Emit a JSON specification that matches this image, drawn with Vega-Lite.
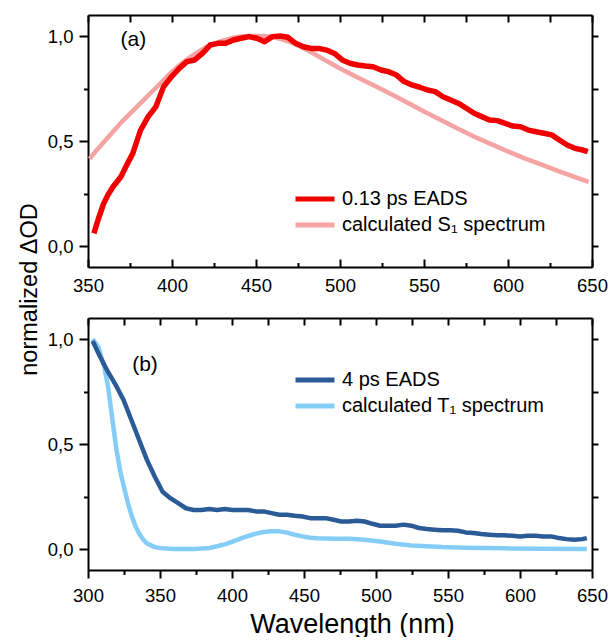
{
  "$schema": "https://vega.github.io/schema/vega-lite/v6.json",
  "background": "white",
  "padding": {"left": 17, "top": 14, "right": 0, "bottom": 0},
  "datasets": {
    "top": [
      {"wl":351,"v":0.415,"s":"calculated S₁ spectrum"},{"wl":355,"v":0.455,"s":"calculated S₁ spectrum"},{"wl":360,"v":0.5,"s":"calculated S₁ spectrum"},{"wl":365,"v":0.545,"s":"calculated S₁ spectrum"},{"wl":370,"v":0.59,"s":"calculated S₁ spectrum"},{"wl":375,"v":0.63,"s":"calculated S₁ spectrum"},{"wl":380,"v":0.67,"s":"calculated S₁ spectrum"},{"wl":385,"v":0.71,"s":"calculated S₁ spectrum"},{"wl":390,"v":0.75,"s":"calculated S₁ spectrum"},{"wl":395,"v":0.79,"s":"calculated S₁ spectrum"},{"wl":400,"v":0.83,"s":"calculated S₁ spectrum"},{"wl":405,"v":0.865,"s":"calculated S₁ spectrum"},{"wl":410,"v":0.895,"s":"calculated S₁ spectrum"},{"wl":415,"v":0.922,"s":"calculated S₁ spectrum"},{"wl":420,"v":0.945,"s":"calculated S₁ spectrum"},{"wl":425,"v":0.963,"s":"calculated S₁ spectrum"},{"wl":430,"v":0.978,"s":"calculated S₁ spectrum"},{"wl":435,"v":0.989,"s":"calculated S₁ spectrum"},{"wl":440,"v":0.996,"s":"calculated S₁ spectrum"},{"wl":445,"v":1.0,"s":"calculated S₁ spectrum"},{"wl":450,"v":1.0,"s":"calculated S₁ spectrum"},{"wl":455,"v":1.0,"s":"calculated S₁ spectrum"},{"wl":460,"v":0.995,"s":"calculated S₁ spectrum"},{"wl":465,"v":0.985,"s":"calculated S₁ spectrum"},{"wl":470,"v":0.972,"s":"calculated S₁ spectrum"},{"wl":475,"v":0.955,"s":"calculated S₁ spectrum"},{"wl":480,"v":0.935,"s":"calculated S₁ spectrum"},{"wl":485,"v":0.913,"s":"calculated S₁ spectrum"},{"wl":490,"v":0.89,"s":"calculated S₁ spectrum"},{"wl":495,"v":0.868,"s":"calculated S₁ spectrum"},{"wl":500,"v":0.845,"s":"calculated S₁ spectrum"},{"wl":505,"v":0.825,"s":"calculated S₁ spectrum"},{"wl":510,"v":0.805,"s":"calculated S₁ spectrum"},{"wl":515,"v":0.785,"s":"calculated S₁ spectrum"},{"wl":520,"v":0.765,"s":"calculated S₁ spectrum"},{"wl":530,"v":0.725,"s":"calculated S₁ spectrum"},{"wl":540,"v":0.683,"s":"calculated S₁ spectrum"},{"wl":550,"v":0.64,"s":"calculated S₁ spectrum"},{"wl":560,"v":0.6,"s":"calculated S₁ spectrum"},{"wl":570,"v":0.56,"s":"calculated S₁ spectrum"},{"wl":580,"v":0.52,"s":"calculated S₁ spectrum"},{"wl":590,"v":0.485,"s":"calculated S₁ spectrum"},{"wl":600,"v":0.45,"s":"calculated S₁ spectrum"},{"wl":610,"v":0.417,"s":"calculated S₁ spectrum"},{"wl":620,"v":0.387,"s":"calculated S₁ spectrum"},{"wl":630,"v":0.357,"s":"calculated S₁ spectrum"},{"wl":640,"v":0.328,"s":"calculated S₁ spectrum"},{"wl":648,"v":0.305,"s":"calculated S₁ spectrum"},
      {"wl":353.5,"v":0.06,"s":"0.13 ps EADS"},{"wl":356,"v":0.125,"s":"0.13 ps EADS"},{"wl":359.2,"v":0.2,"s":"0.13 ps EADS"},{"wl":362,"v":0.245,"s":"0.13 ps EADS"},{"wl":365,"v":0.283,"s":"0.13 ps EADS"},{"wl":369.6,"v":0.33,"s":"0.13 ps EADS"},{"wl":373,"v":0.385,"s":"0.13 ps EADS"},{"wl":376.6,"v":0.44,"s":"0.13 ps EADS"},{"wl":381.2,"v":0.55,"s":"0.13 ps EADS"},{"wl":385.8,"v":0.616,"s":"0.13 ps EADS"},{"wl":390.4,"v":0.663,"s":"0.13 ps EADS"},{"wl":395,"v":0.759,"s":"0.13 ps EADS"},{"wl":399.7,"v":0.806,"s":"0.13 ps EADS"},{"wl":404.3,"v":0.846,"s":"0.13 ps EADS"},{"wl":408.9,"v":0.878,"s":"0.13 ps EADS"},{"wl":413.5,"v":0.886,"s":"0.13 ps EADS"},{"wl":418.1,"v":0.917,"s":"0.13 ps EADS"},{"wl":422.7,"v":0.957,"s":"0.13 ps EADS"},{"wl":427.4,"v":0.965,"s":"0.13 ps EADS"},{"wl":432,"v":0.965,"s":"0.13 ps EADS"},{"wl":436.6,"v":0.981,"s":"0.13 ps EADS"},{"wl":441.2,"v":0.989,"s":"0.13 ps EADS"},{"wl":445.8,"v":0.997,"s":"0.13 ps EADS"},{"wl":450.5,"v":0.989,"s":"0.13 ps EADS"},{"wl":455.1,"v":0.973,"s":"0.13 ps EADS"},{"wl":459.7,"v":0.997,"s":"0.13 ps EADS"},{"wl":464.3,"v":1.0,"s":"0.13 ps EADS"},{"wl":468.9,"v":0.994,"s":"0.13 ps EADS"},{"wl":473.6,"v":0.965,"s":"0.13 ps EADS"},{"wl":478.2,"v":0.949,"s":"0.13 ps EADS"},{"wl":482.8,"v":0.941,"s":"0.13 ps EADS"},{"wl":487.4,"v":0.941,"s":"0.13 ps EADS"},{"wl":492,"v":0.933,"s":"0.13 ps EADS"},{"wl":496.7,"v":0.917,"s":"0.13 ps EADS"},{"wl":501.3,"v":0.886,"s":"0.13 ps EADS"},{"wl":505.9,"v":0.87,"s":"0.13 ps EADS"},{"wl":510.5,"v":0.862,"s":"0.13 ps EADS"},{"wl":515.1,"v":0.857,"s":"0.13 ps EADS"},{"wl":519.7,"v":0.854,"s":"0.13 ps EADS"},{"wl":524.4,"v":0.838,"s":"0.13 ps EADS"},{"wl":529,"v":0.83,"s":"0.13 ps EADS"},{"wl":533.6,"v":0.814,"s":"0.13 ps EADS"},{"wl":538.2,"v":0.783,"s":"0.13 ps EADS"},{"wl":542.8,"v":0.767,"s":"0.13 ps EADS"},{"wl":547.5,"v":0.756,"s":"0.13 ps EADS"},{"wl":552.1,"v":0.743,"s":"0.13 ps EADS"},{"wl":556.7,"v":0.735,"s":"0.13 ps EADS"},{"wl":561.3,"v":0.711,"s":"0.13 ps EADS"},{"wl":565.9,"v":0.695,"s":"0.13 ps EADS"},{"wl":570.6,"v":0.679,"s":"0.13 ps EADS"},{"wl":575.2,"v":0.656,"s":"0.13 ps EADS"},{"wl":579.8,"v":0.632,"s":"0.13 ps EADS"},{"wl":584.4,"v":0.616,"s":"0.13 ps EADS"},{"wl":589,"v":0.6,"s":"0.13 ps EADS"},{"wl":593.6,"v":0.597,"s":"0.13 ps EADS"},{"wl":598.3,"v":0.584,"s":"0.13 ps EADS"},{"wl":602.9,"v":0.571,"s":"0.13 ps EADS"},{"wl":607.5,"v":0.568,"s":"0.13 ps EADS"},{"wl":612.1,"v":0.552,"s":"0.13 ps EADS"},{"wl":616.7,"v":0.544,"s":"0.13 ps EADS"},{"wl":621.4,"v":0.537,"s":"0.13 ps EADS"},{"wl":626,"v":0.529,"s":"0.13 ps EADS"},{"wl":630.6,"v":0.505,"s":"0.13 ps EADS"},{"wl":635.2,"v":0.481,"s":"0.13 ps EADS"},{"wl":639.8,"v":0.465,"s":"0.13 ps EADS"},{"wl":644.5,"v":0.457,"s":"0.13 ps EADS"},{"wl":647.5,"v":0.449,"s":"0.13 ps EADS"}
    ],
    "bottom": [
      {"wl":303.2,"v":1.0,"s":"calculated T₁ spectrum"},{"wl":307.3,"v":0.96,"s":"calculated T₁ spectrum"},{"wl":311.3,"v":0.866,"s":"calculated T₁ spectrum"},{"wl":314,"v":0.77,"s":"calculated T₁ spectrum"},{"wl":316.7,"v":0.629,"s":"calculated T₁ spectrum"},{"wl":319.4,"v":0.49,"s":"calculated T₁ spectrum"},{"wl":322.1,"v":0.38,"s":"calculated T₁ spectrum"},{"wl":324.8,"v":0.3,"s":"calculated T₁ spectrum"},{"wl":327.5,"v":0.225,"s":"calculated T₁ spectrum"},{"wl":330.2,"v":0.16,"s":"calculated T₁ spectrum"},{"wl":332.9,"v":0.11,"s":"calculated T₁ spectrum"},{"wl":335.6,"v":0.072,"s":"calculated T₁ spectrum"},{"wl":338.3,"v":0.045,"s":"calculated T₁ spectrum"},{"wl":341,"v":0.026,"s":"calculated T₁ spectrum"},{"wl":346.4,"v":0.009,"s":"calculated T₁ spectrum"},{"wl":351.8,"v":0.003,"s":"calculated T₁ spectrum"},{"wl":359.9,"v":0.0,"s":"calculated T₁ spectrum"},{"wl":373.4,"v":0.0,"s":"calculated T₁ spectrum"},{"wl":384.2,"v":0.005,"s":"calculated T₁ spectrum"},{"wl":389.6,"v":0.013,"s":"calculated T₁ spectrum"},{"wl":395,"v":0.022,"s":"calculated T₁ spectrum"},{"wl":400.4,"v":0.035,"s":"calculated T₁ spectrum"},{"wl":405.8,"v":0.049,"s":"calculated T₁ spectrum"},{"wl":411.2,"v":0.062,"s":"calculated T₁ spectrum"},{"wl":416.6,"v":0.073,"s":"calculated T₁ spectrum"},{"wl":422,"v":0.081,"s":"calculated T₁ spectrum"},{"wl":427.4,"v":0.084,"s":"calculated T₁ spectrum"},{"wl":432.8,"v":0.084,"s":"calculated T₁ spectrum"},{"wl":438.2,"v":0.078,"s":"calculated T₁ spectrum"},{"wl":443.5,"v":0.068,"s":"calculated T₁ spectrum"},{"wl":448.9,"v":0.06,"s":"calculated T₁ spectrum"},{"wl":454.3,"v":0.054,"s":"calculated T₁ spectrum"},{"wl":459.7,"v":0.051,"s":"calculated T₁ spectrum"},{"wl":470.5,"v":0.049,"s":"calculated T₁ spectrum"},{"wl":481.3,"v":0.049,"s":"calculated T₁ spectrum"},{"wl":492.1,"v":0.044,"s":"calculated T₁ spectrum"},{"wl":502.9,"v":0.036,"s":"calculated T₁ spectrum"},{"wl":513.7,"v":0.025,"s":"calculated T₁ spectrum"},{"wl":524.5,"v":0.017,"s":"calculated T₁ spectrum"},{"wl":535.3,"v":0.013,"s":"calculated T₁ spectrum"},{"wl":546.1,"v":0.009,"s":"calculated T₁ spectrum"},{"wl":562.3,"v":0.006,"s":"calculated T₁ spectrum"},{"wl":589.3,"v":0.003,"s":"calculated T₁ spectrum"},{"wl":616.2,"v":0.001,"s":"calculated T₁ spectrum"},{"wl":646.4,"v":0.0,"s":"calculated T₁ spectrum"},
      {"wl":303.2,"v":0.99,"s":"4 ps EADS"},{"wl":308.6,"v":0.913,"s":"4 ps EADS"},{"wl":314,"v":0.842,"s":"4 ps EADS"},{"wl":319.4,"v":0.779,"s":"4 ps EADS"},{"wl":324.8,"v":0.708,"s":"4 ps EADS"},{"wl":330.2,"v":0.613,"s":"4 ps EADS"},{"wl":335.6,"v":0.518,"s":"4 ps EADS"},{"wl":341,"v":0.423,"s":"4 ps EADS"},{"wl":346.4,"v":0.344,"s":"4 ps EADS"},{"wl":351.8,"v":0.273,"s":"4 ps EADS"},{"wl":357.2,"v":0.242,"s":"4 ps EADS"},{"wl":362.6,"v":0.218,"s":"4 ps EADS"},{"wl":368,"v":0.194,"s":"4 ps EADS"},{"wl":373.4,"v":0.186,"s":"4 ps EADS"},{"wl":378.8,"v":0.186,"s":"4 ps EADS"},{"wl":384.2,"v":0.19,"s":"4 ps EADS"},{"wl":389.6,"v":0.186,"s":"4 ps EADS"},{"wl":395,"v":0.19,"s":"4 ps EADS"},{"wl":400.4,"v":0.186,"s":"4 ps EADS"},{"wl":405.8,"v":0.186,"s":"4 ps EADS"},{"wl":411.2,"v":0.186,"s":"4 ps EADS"},{"wl":416.6,"v":0.179,"s":"4 ps EADS"},{"wl":422,"v":0.179,"s":"4 ps EADS"},{"wl":427.4,"v":0.171,"s":"4 ps EADS"},{"wl":432.8,"v":0.163,"s":"4 ps EADS"},{"wl":438.2,"v":0.163,"s":"4 ps EADS"},{"wl":443.5,"v":0.158,"s":"4 ps EADS"},{"wl":448.9,"v":0.155,"s":"4 ps EADS"},{"wl":454.3,"v":0.147,"s":"4 ps EADS"},{"wl":459.7,"v":0.147,"s":"4 ps EADS"},{"wl":465.1,"v":0.147,"s":"4 ps EADS"},{"wl":470.5,"v":0.139,"s":"4 ps EADS"},{"wl":475.9,"v":0.131,"s":"4 ps EADS"},{"wl":481.3,"v":0.131,"s":"4 ps EADS"},{"wl":486.7,"v":0.134,"s":"4 ps EADS"},{"wl":492.1,"v":0.131,"s":"4 ps EADS"},{"wl":497.5,"v":0.12,"s":"4 ps EADS"},{"wl":502.9,"v":0.111,"s":"4 ps EADS"},{"wl":508.3,"v":0.111,"s":"4 ps EADS"},{"wl":513.7,"v":0.111,"s":"4 ps EADS"},{"wl":519.1,"v":0.116,"s":"4 ps EADS"},{"wl":524.5,"v":0.111,"s":"4 ps EADS"},{"wl":529.9,"v":0.1,"s":"4 ps EADS"},{"wl":535.3,"v":0.095,"s":"4 ps EADS"},{"wl":540.7,"v":0.092,"s":"4 ps EADS"},{"wl":546.1,"v":0.089,"s":"4 ps EADS"},{"wl":551.5,"v":0.089,"s":"4 ps EADS"},{"wl":556.9,"v":0.087,"s":"4 ps EADS"},{"wl":562.3,"v":0.079,"s":"4 ps EADS"},{"wl":567.7,"v":0.076,"s":"4 ps EADS"},{"wl":573.1,"v":0.071,"s":"4 ps EADS"},{"wl":578.5,"v":0.068,"s":"4 ps EADS"},{"wl":583.9,"v":0.065,"s":"4 ps EADS"},{"wl":589.3,"v":0.065,"s":"4 ps EADS"},{"wl":594.7,"v":0.063,"s":"4 ps EADS"},{"wl":600,"v":0.06,"s":"4 ps EADS"},{"wl":605.4,"v":0.063,"s":"4 ps EADS"},{"wl":610.8,"v":0.063,"s":"4 ps EADS"},{"wl":616.2,"v":0.06,"s":"4 ps EADS"},{"wl":621.6,"v":0.06,"s":"4 ps EADS"},{"wl":627,"v":0.052,"s":"4 ps EADS"},{"wl":632.4,"v":0.047,"s":"4 ps EADS"},{"wl":637.8,"v":0.044,"s":"4 ps EADS"},{"wl":643.2,"v":0.047,"s":"4 ps EADS"},{"wl":646.4,"v":0.052,"s":"4 ps EADS"}
    ],
    "labA": [{"wl":377,"v":0.98,"t":"(a)"}],
    "labB": [{"wl":339.6,"v":0.876,"t":"(b)"}]
  },
  "vconcat": [
    {
      "width": 504,
      "height": 252,
      "resolve": {"axis": {"x": "independent", "y": "independent"}},
      "layer": [
        {
          "data": {"name": "top"},
          "transform": [{"filter": "datum.s === 'calculated S₁ spectrum'"}],
          "mark": {"type": "line", "strokeWidth": 4.5, "strokeJoin": "round", "strokeCap": "butt"},
          "encoding": {
            "x": {"field": "wl", "type": "quantitative", "scale": {"domain": [350, 650], "nice": false, "zero": false},
                  "axis": {"orient": "bottom", "values": [350,400,450,500,550,600,650], "tickSize": -8, "labelPadding": 17, "title": null}},
            "y": {"field": "v", "type": "quantitative", "scale": {"domain": [-0.1, 1.1], "nice": false, "zero": false},
                  "axis": {"orient": "left", "values": [0, 0.5, 1], "tickSize": 9, "labelPadding": 6,
                           "labelExpr": "replace(format(datum.value, '.1f'), '.', ',')",
                           "title": "normalized ΔOD", "titleFontSize": 23.5, "titleAngle": 270, "titleX": -52, "titleY": 274,
                           "titleAlign": "center", "titleBaseline": "alphabetic"}},
            "color": {"field": "s", "type": "nominal",
                      "scale": {"domain": ["0.13 ps EADS", "calculated S₁ spectrum"], "range": ["#f00000", "#f5a3a3"]},
                      "legend": {"orient": "none", "legendX": 205, "legendY": 174, "title": null}}
          }
        },
        {
          "data": {"name": "top"},
          "transform": [{"filter": "datum.s === '0.13 ps EADS'"}],
          "mark": {"type": "line", "strokeWidth": 5.5, "strokeJoin": "round", "strokeCap": "butt"},
          "encoding": {
            "x": {"field": "wl", "type": "quantitative", "axis": null},
            "y": {"field": "v", "type": "quantitative", "axis": null},
            "color": {"field": "s", "type": "nominal"}
          }
        },
        {
          "data": {"name": "top"},
          "mark": {"type": "line", "opacity": 0},
          "encoding": {
            "x": {"field": "wl", "type": "quantitative",
                  "axis": {"orient": "bottom", "values": [375,425,475,525,575,625], "tickSize": -4.5, "labels": false, "domain": false, "title": null}},
            "y": {"field": "v", "type": "quantitative",
                  "axis": {"orient": "left", "values": [0.25, 0.75], "tickSize": 4.5, "labels": false, "domain": false, "title": null}},
            "detail": {"field": "s"}
          }
        },
        {
          "data": {"name": "top"},
          "mark": {"type": "line", "opacity": 0},
          "encoding": {
            "x": {"field": "wl", "type": "quantitative",
                  "axis": {"orient": "top", "values": [350,375,400,425,450,475,500,525,550,575,600,625,650], "tickSize": -7, "labels": false, "title": null}},
            "y": {"field": "v", "type": "quantitative",
                  "axis": {"orient": "right", "values": [0, 0.25, 0.5, 0.75, 1], "tickSize": 6, "labels": false, "title": null}},
            "detail": {"field": "s"}
          }
        },
        {
          "data": {"name": "labA"},
          "mark": {"type": "text", "fontSize": 21, "align": "center", "baseline": "middle", "color": "#000"},
          "encoding": {
            "x": {"field": "wl", "type": "quantitative", "axis": null},
            "y": {"field": "v", "type": "quantitative", "axis": null},
            "text": {"field": "t"}
          }
        }
      ]
    },
    {
      "width": 504,
      "height": 252,
      "resolve": {"axis": {"x": "independent", "y": "independent"}},
      "layer": [
        {
          "data": {"name": "bottom"},
          "transform": [{"filter": "datum.s === 'calculated T₁ spectrum'"}],
          "mark": {"type": "line", "strokeWidth": 4.5, "strokeJoin": "round", "strokeCap": "butt"},
          "encoding": {
            "x": {"field": "wl", "type": "quantitative", "scale": {"domain": [300, 650], "nice": false, "zero": false},
                  "axis": {"orient": "bottom", "values": [300,350,400,450,500,550,600,650], "tickSize": 8, "labelPadding": 8,
                           "title": "Wavelength (nm)", "titleFontSize": 27, "titleX": 264, "titleY": 62, "titleAlign": "center", "titleBaseline": "alphabetic"}},
            "y": {"field": "v", "type": "quantitative", "scale": {"domain": [-0.1, 1.1], "nice": false, "zero": false},
                  "axis": {"orient": "left", "values": [0, 0.5, 1], "tickSize": 9, "labelPadding": 6,
                           "labelExpr": "replace(format(datum.value, '.1f'), '.', ',')", "title": null}},
            "color": {"field": "s", "type": "nominal",
                      "scale": {"domain": ["4 ps EADS", "calculated T₁ spectrum"], "range": ["#2b5b97", "#85cdf6"]},
                      "legend": {"orient": "none", "legendX": 205, "legendY": 52, "title": null}}
          }
        },
        {
          "data": {"name": "bottom"},
          "transform": [{"filter": "datum.s === '4 ps EADS'"}],
          "mark": {"type": "line", "strokeWidth": 4.5, "strokeJoin": "round", "strokeCap": "butt"},
          "encoding": {
            "x": {"field": "wl", "type": "quantitative", "axis": null},
            "y": {"field": "v", "type": "quantitative", "axis": null},
            "color": {"field": "s", "type": "nominal"}
          }
        },
        {
          "data": {"name": "bottom"},
          "mark": {"type": "line", "opacity": 0},
          "encoding": {
            "x": {"field": "wl", "type": "quantitative",
                  "axis": {"orient": "bottom", "values": [325,375,425,475,525,575,625], "tickSize": 4.5, "labels": false, "domain": false, "title": null}},
            "y": {"field": "v", "type": "quantitative",
                  "axis": {"orient": "left", "values": [0.25, 0.75], "tickSize": 4.5, "labels": false, "domain": false, "title": null}},
            "detail": {"field": "s"}
          }
        },
        {
          "data": {"name": "bottom"},
          "mark": {"type": "line", "opacity": 0},
          "encoding": {
            "x": {"field": "wl", "type": "quantitative",
                  "axis": {"orient": "top", "values": [300,325,350,375,400,425,450,475,500,525,550,575,600,625,650], "tickSize": -7, "labels": false, "title": null}},
            "y": {"field": "v", "type": "quantitative",
                  "axis": {"orient": "right", "values": [0, 0.25, 0.5, 0.75, 1], "tickSize": 6, "labels": false, "title": null}},
            "detail": {"field": "s"}
          }
        },
        {
          "data": {"name": "labB"},
          "mark": {"type": "text", "fontSize": 21, "align": "center", "baseline": "middle", "color": "#000"},
          "encoding": {
            "x": {"field": "wl", "type": "quantitative", "axis": null},
            "y": {"field": "v", "type": "quantitative", "axis": null},
            "text": {"field": "t"}
          }
        }
      ]
    }
  ],
  "bounds": "flush",
  "spacing": 51,
  "resolve": {"scale": {"color": "independent"}, "legend": {"color": "independent"}},
  "config": {
    "font": "Liberation Sans",
    "view": {"stroke": null},
    "axis": {
      "domainColor": "#000", "domainWidth": 2, "tickColor": "#000", "tickWidth": 2,
      "labelColor": "#000", "labelFontSize": 18.5, "labelFont": "Liberation Sans",
      "grid": false, "labelFlush": false, "labelOverlap": false, "labelBound": false,
      "titleColor": "#000", "titleFontWeight": "normal", "titleFont": "Liberation Sans"
    },
    "legend": {
      "symbolType": "stroke", "symbolSize": 1521, "symbolStrokeWidth": 5,
      "clipHeight": 20, "rowPadding": 6, "labelOffset": 5, "labelLimit": 400,
      "labelFontSize": 20, "labelColor": "#000", "labelFont": "Liberation Sans", "padding": 0
    }
  }
}
